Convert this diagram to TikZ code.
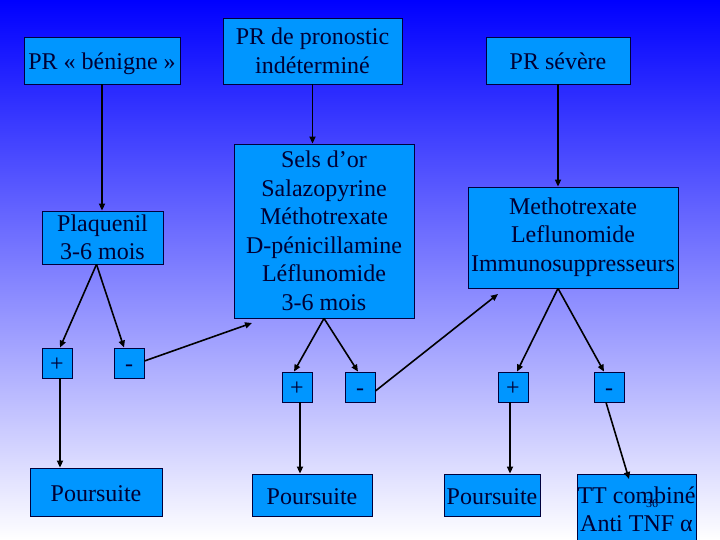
\documentclass[tikz,border=0pt]{standalone}
\usepackage{fontspec}
\setmainfont{Liberation Serif}
\usetikzlibrary{arrows.meta}
\definecolor{boxblue}{RGB}{0,150,255}
\definecolor{navytext}{RGB}{0,0,51}
\definecolor{navyline}{RGB}{0,0,60}
\definecolor{topblue}{RGB}{0,0,255}
\tikzset{
  box/.style={draw=navyline, line width=0.8pt, fill=boxblue, text=navytext,
    font=\fontsize{24}{28.5}\selectfont, inner sep=0pt},
  sbox/.style={box, text height=18pt, text depth=0pt},
  mbox/.style={box, align=center},
  sq/.style={box, minimum width=30pt, minimum height=30pt, text height=16pt, text depth=0pt},
  arr/.style={draw=black, line width=1.6pt, -{Triangle[length=7pt,width=6pt]}}
}
\begin{document}
\begin{tikzpicture}[x=1pt,y=-1pt]
\useasboundingbox (0,0) rectangle (720,540);
\clip (0,0) rectangle (720,540);
\shade[top color=topblue, bottom color=white] (0,0) rectangle (720,540);

\node[sbox, minimum width=156pt, minimum height=47pt] (b1) at (102,60.5) {PR « bénigne »};
\node[mbox, minimum width=179pt, minimum height=66pt] (b2) at (312.5,51) {PR de pronostic\\indéterminé};
\node[sbox, minimum width=144pt, minimum height=47pt] (b3) at (558,60.5) {PR sévère};

\node[mbox, minimum width=121pt, minimum height=53pt] (plaq) at (102.5,237.5) {Plaquenil\\3-6 mois};
\node[mbox, minimum width=180pt, minimum height=174pt] (sels) at (324,231) {Sels d’or\\Salazopyrine\\Méthotrexate\\D-pénicillamine\\Léflunomide\\3-6 mois};
\node[box, minimum width=210pt, minimum height=101pt] (meth) at (573,237.5) {\raisebox{-6pt}[0pt][0pt]{\begin{tabular}{@{}c@{}}Methotrexate\\Leflunomide\\Immunosuppresseurs\end{tabular}}};

\node[sq] (p1) at (57,363) {+};
\node[sq] (m1) at (129,363) {-};
\node[sq] (p2) at (297,387) {+};
\node[sq] (m2) at (360,387) {-};
\node[sq] (p3) at (513,387) {+};
\node[sq] (m3) at (609,387) {-};

\node[sbox, minimum width=132pt, minimum height=48pt] (pour1) at (96,492) {Poursuite};
\node[sbox, minimum width=120pt, minimum height=42pt] (pour2) at (312,495) {Poursuite};
\node[sbox, minimum width=96pt, minimum height=42pt] (pour3) at (492,495) {Poursuite};
\node[mbox, minimum width=119pt, minimum height=71pt] (tt) at (636.5,509.5) {TT combiné\\Anti TNF α};
\node[text=navytext, font=\fontsize{12}{12}\selectfont, inner sep=0pt] (num) at (652,504) {36};

\coordinate (selsin) at (252,323);
\coordinate (methin) at (498,294);
\coordinate (ttin) at (629,479);

% top verticals
\draw[arr] (b1.south) -- (b1.south |- plaq.north);
\draw[arr] (b2.south) -- (b2.south |- sels.north);
\draw[arr] (b3.south) -- (b3.south |- meth.north);

% Plaquenil branches
\draw[arr] ([xshift=-6pt]plaq.south) -- ([xshift=3pt]p1.north);
\draw[arr] ([xshift=-6pt]plaq.south) -- ([xshift=-5pt]m1.north);
\draw[arr] ([xshift=3pt]p1.south) -- ([xshift=3pt]pour1.north -| p1.south);
\draw[arr] ([yshift=2pt]m1.east) -- (selsin);

% Sels branches
\draw[arr] (sels.south) -- ([xshift=-3pt]p2.north);
\draw[arr] (sels.south) -- ([xshift=-2pt]m2.north);
\draw[arr] ([xshift=3pt]p2.south) -- ([xshift=3pt]pour2.north -| p2.south);
\draw[arr] ([yshift=-4pt]m2.east) -- (methin);

% Methotrexate branches
\draw[arr] ([xshift=-15pt]meth.south) -- ([xshift=4pt]p3.north);
\draw[arr] ([xshift=-15pt]meth.south) -- ([xshift=-5pt]m3.north);
\draw[arr] ([xshift=-3pt]p3.south) -- ([xshift=-3pt]pour3.north -| p3.south);
\draw[arr] ([xshift=-3pt]m3.south) -- (ttin);
\end{tikzpicture}
\end{document}
